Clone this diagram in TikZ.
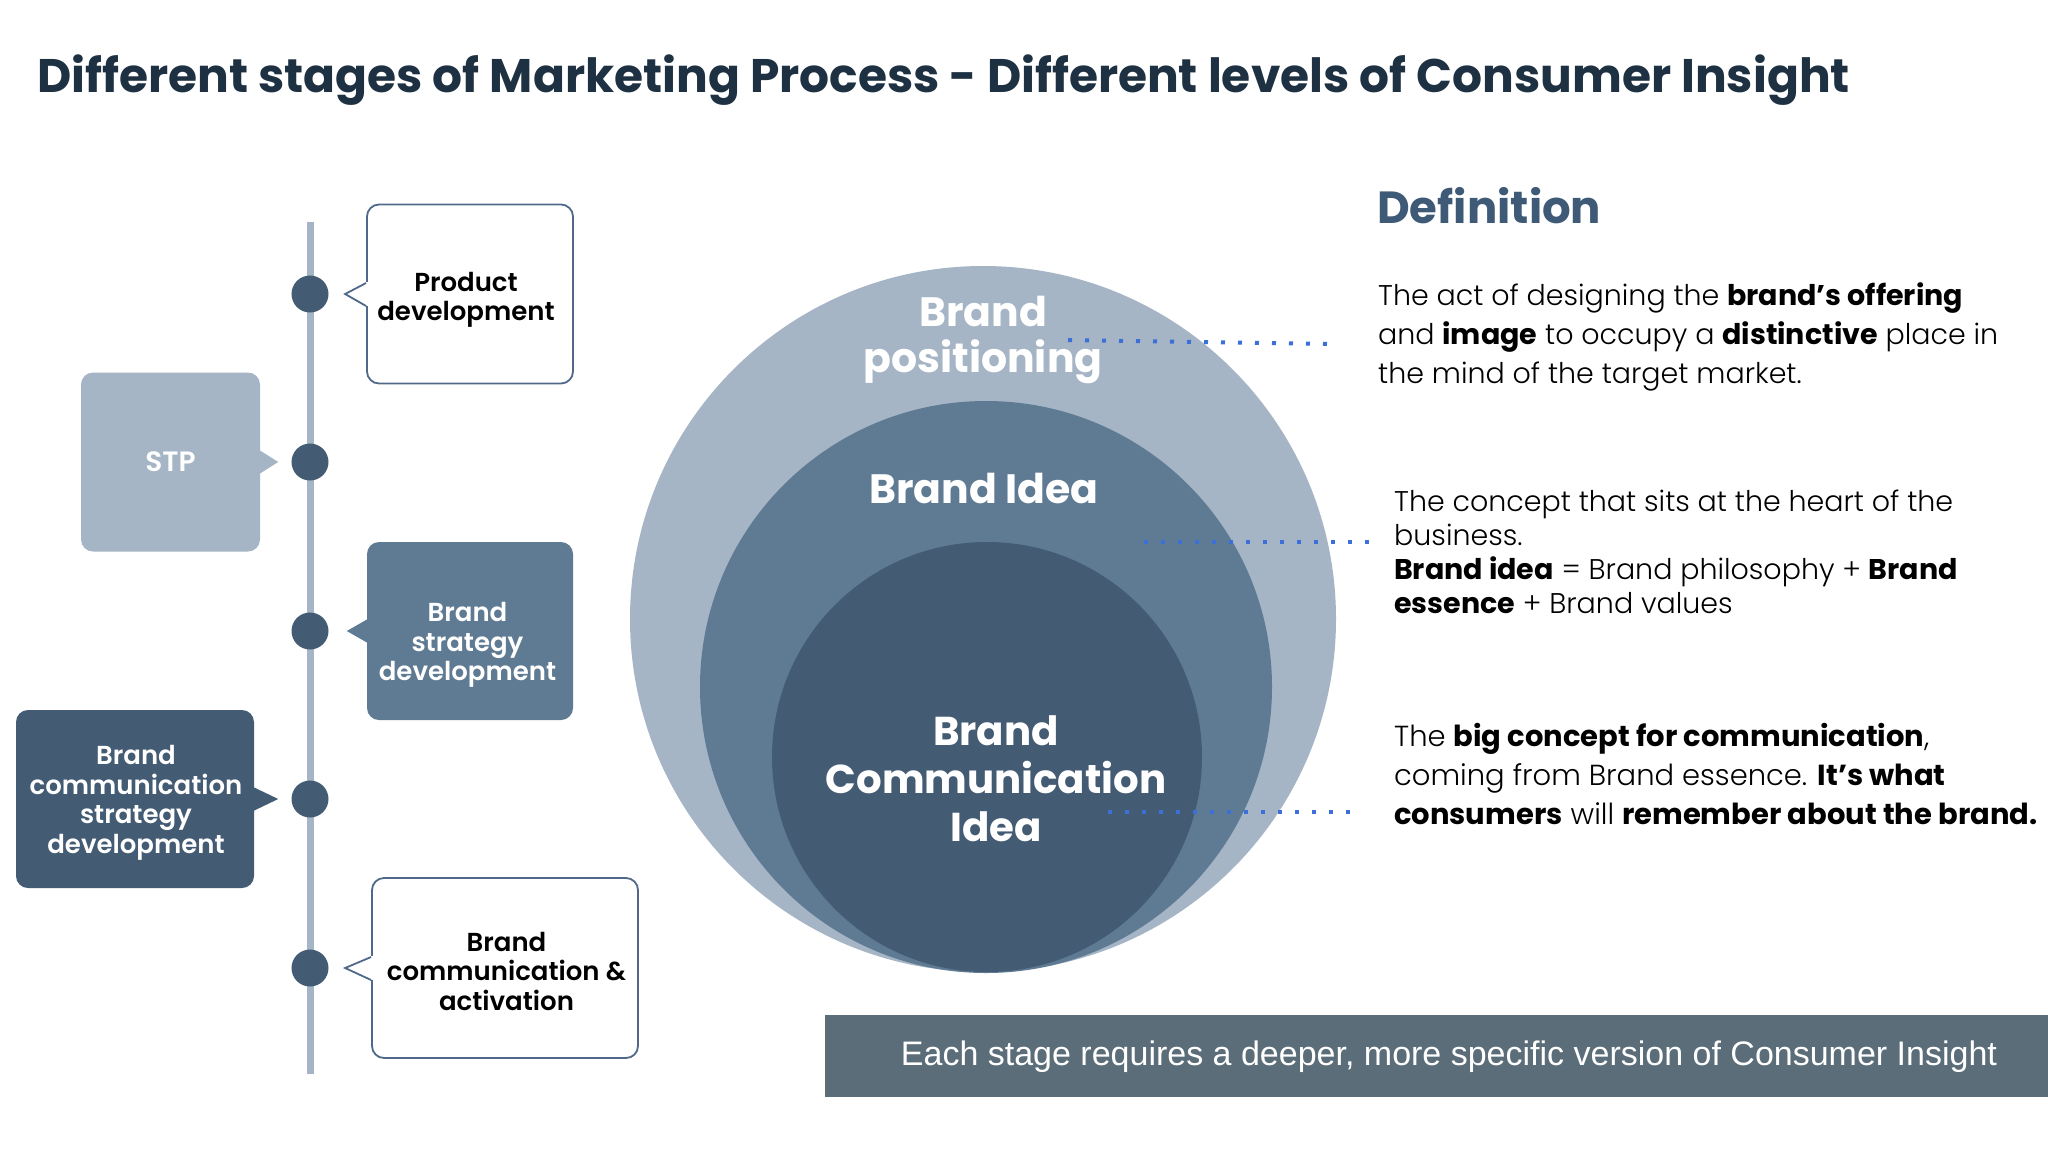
\documentclass[tikz,border=0pt]{standalone}
\usepackage{fontspec}
\setmainfont{Poppins}[UprightFont={Poppins Light},BoldFont={Poppins Bold}]
\newfontfamily\boldfam{Poppins}[UprightFont={Poppins SemiBold}]
\newfontfamily\heavyfam{Poppins}[UprightFont={Poppins Bold}]
\newfontfamily\arialfont{Liberation Sans}
\usetikzlibrary{calc}
\definecolor{navy}{HTML}{1E3142}
\definecolor{lightc}{HTML}{A5B5C5}
\definecolor{midc}{HTML}{5F7B93}
\definecolor{darkc}{HTML}{435B73}
\definecolor{edgec}{HTML}{50698A}
\definecolor{dotblue}{HTML}{3D6FD9}
\definecolor{bannerc}{HTML}{5B6D79}
\definecolor{defc}{HTML}{3F5A76}
\tikzset{
  boxbase/.style={rounded corners=12pt, inner sep=0pt},
  outbox/.style={boxbase, draw=edgec, line width=1.8pt, fill=white},
  fillbox/.style={boxbase},
  boxtext/.style={inner sep=0pt, align=center, font=\boldfam\fontsize{26}{29.5}\selectfont},
  tdot/.style={circle, fill=darkc, minimum size=37pt, inner sep=0pt},
  ring/.style={circle, inner sep=0pt},
  circtext/.style={text=white, align=center, inner sep=0pt},
  para/.style={anchor=base west, inner sep=0pt, text=black},
  dotline/.style={draw=dotblue, line width=4pt, dash pattern=on 4pt off 13pt}
}
\begin{document}
\begin{tikzpicture}[x=1pt,y=-1pt]
\useasboundingbox (0,0) rectangle (2048,1152);
\fill[white] (0,0) rectangle (2048,1152);

% title
\node[anchor=base west, inner sep=0pt, text=navy, font=\heavyfam\fontsize{47.1}{50}\selectfont] (title) at (37,92)
  {Different stages of Marketing Process - Different levels of Consumer Insight};

% timeline
\coordinate (ltop) at (310,222);
\coordinate (lbot) at (310,1074);
\draw[lightc, line width=7pt] (ltop) -- (lbot);

% boxes
\node[outbox, minimum width=206pt, minimum height=179pt] (pd) at (470,294) {};
\node[fillbox, fill=lightc, minimum width=179pt, minimum height=179pt] (stp) at (170.5,462) {};
\node[fillbox, fill=midc, minimum width=206pt, minimum height=178pt] (bsd) at (470,631) {};
\node[fillbox, fill=darkc, minimum width=238pt, minimum height=178pt] (bcsd) at (135,799) {};
\node[outbox, minimum width=266pt, minimum height=180pt] (bca) at (505,968) {};

% box texts
\node[boxtext, text=black] (pdt) at (466,300) {Product\\development};
\node[boxtext, text=white, font=\boldfam\fontsize{28}{30}\selectfont] (stpt) at (170.5,462) {STP};
\node[boxtext, text=white] (bsdt) at (467.5,645) {Brand\\strategy\\development};
\node[boxtext, text=white] (bcsdt) at (136,803) {Brand\\communication\\strategy\\development};
\node[boxtext, text=black] (bcat) at (506.5,971) {Brand\\communication \&\\activation};

% pointers
\fill[white] ([yshift=12pt,xshift=-2pt]pd.west) rectangle ([yshift=-12pt,xshift=2pt]pd.west);
\draw[edgec, line width=1.8pt] ([yshift=11pt]pd.west) -- ([xshift=-21pt]pd.west) -- ([yshift=-12pt]pd.west);
\fill[white] ([yshift=12pt,xshift=-2pt]bca.west) rectangle ([yshift=-12pt,xshift=2pt]bca.west);
\draw[edgec, line width=1.8pt] ([yshift=11pt]bca.west) -- ([xshift=-26pt]bca.west) -- ([yshift=-12pt]bca.west);
\fill[midc] ([yshift=12pt,xshift=1pt]bsd.west) -- ([xshift=-20pt]bsd.west) -- ([yshift=-12pt,xshift=1pt]bsd.west) -- cycle;
\fill[lightc] ([yshift=12pt,xshift=-1pt]stp.east) -- ([xshift=18pt]stp.east) -- ([yshift=-12pt,xshift=-1pt]stp.east) -- cycle;
\fill[darkc] ([yshift=12pt,xshift=-1pt]bcsd.east) -- ([xshift=24pt]bcsd.east) -- ([yshift=-12pt,xshift=-1pt]bcsd.east) -- cycle;

% dots
\node[tdot] (d1) at (310,294) {};
\node[tdot] (d2) at (310,462) {};
\node[tdot] (d3) at (310,631) {};
\node[tdot] (d4) at (310,799) {};
\node[tdot] (d5) at (310,968) {};

% circles
\node[ring, fill=lightc, minimum size=706pt] (outer) at (983,619) {};
\node[ring, fill=midc, minimum size=572pt] (middle) at (986,687) {};
\node[ring, fill=darkc, minimum size=430pt] (inner) at (987,757) {};

\node[circtext, font=\heavyfam\fontsize{41}{46}\selectfont] (tpos) at (983,340) {Brand\\positioning};
\node[circtext, font=\heavyfam\fontsize{41}{46}\selectfont] (tidea) at (984,488) {Brand Idea};
\node[circtext, font=\heavyfam\fontsize{40.3}{48}\selectfont] (tcomm) at (996,779) {Brand\\Communication\\Idea};

% dotted leaders
\coordinate (a1) at (1068,340);
\coordinate (b1) at (1329,344);
\coordinate (a2) at (1144,542);
\coordinate (b2) at (1371,542);
\coordinate (a3) at (1108,812);
\coordinate (b3) at (1352,812);
\draw[dotline] (a1) -- (b1);
\draw[dotline] (a2) -- (b2);
\draw[dotline] (a3) -- (b3);

% definitions
\node[anchor=base west, inner sep=0pt, text=defc, font=\heavyfam\fontsize{45}{48}\selectfont] (def) at (1377,223) {Definition};

\node[para, font=\fontsize{28.5}{34}\selectfont] (p1a) at (1378,305) {The act of designing the \textbf{brand’s offering}};
\node[para, font=\fontsize{28.5}{34}\selectfont] (p1b) at (1378,344) {and \textbf{image} to occupy a \textbf{distinctive} place in};
\node[para, font=\fontsize{28.5}{34}\selectfont] (p1c) at (1378,383) {the mind of the target market.};

\node[para, font=\fontsize{28.5}{34}\selectfont] (p2a) at (1394,511) {The concept that sits at the heart of the};
\node[para, font=\fontsize{28.5}{34}\selectfont] (p2b) at (1394,545) {business.};
\node[para, font=\fontsize{28.5}{34}\selectfont] (p2c) at (1394,579) {\textbf{Brand idea} = Brand philosophy + \textbf{Brand}};
\node[para, font=\fontsize{28.5}{34}\selectfont] (p2d) at (1394,613) {\textbf{essence} + Brand values};

\node[para, font=\fontsize{29}{34}\selectfont] (p3a) at (1394,746) {The \textbf{big concept for communication},};
\node[para, font=\fontsize{29}{34}\selectfont] (p3b) at (1394,785) {coming from Brand essence. \textbf{It’s what}};
\node[para, font=\fontsize{29}{34}\selectfont] (p3c) at (1394,824) {\textbf{consumers} will \textbf{remember about the brand.}};

% banner
\node[anchor=north west, fill=bannerc, minimum width=1223pt, minimum height=82pt, inner sep=0pt] (banner) at (825,1015) {};
\node[text=white, inner sep=0pt, font=\arialfont\fontsize{34}{38}\selectfont] (btext) at (1449,1057)
  {Each stage requires a deeper, more specific version of Consumer Insight};
\end{tikzpicture}
\end{document}
